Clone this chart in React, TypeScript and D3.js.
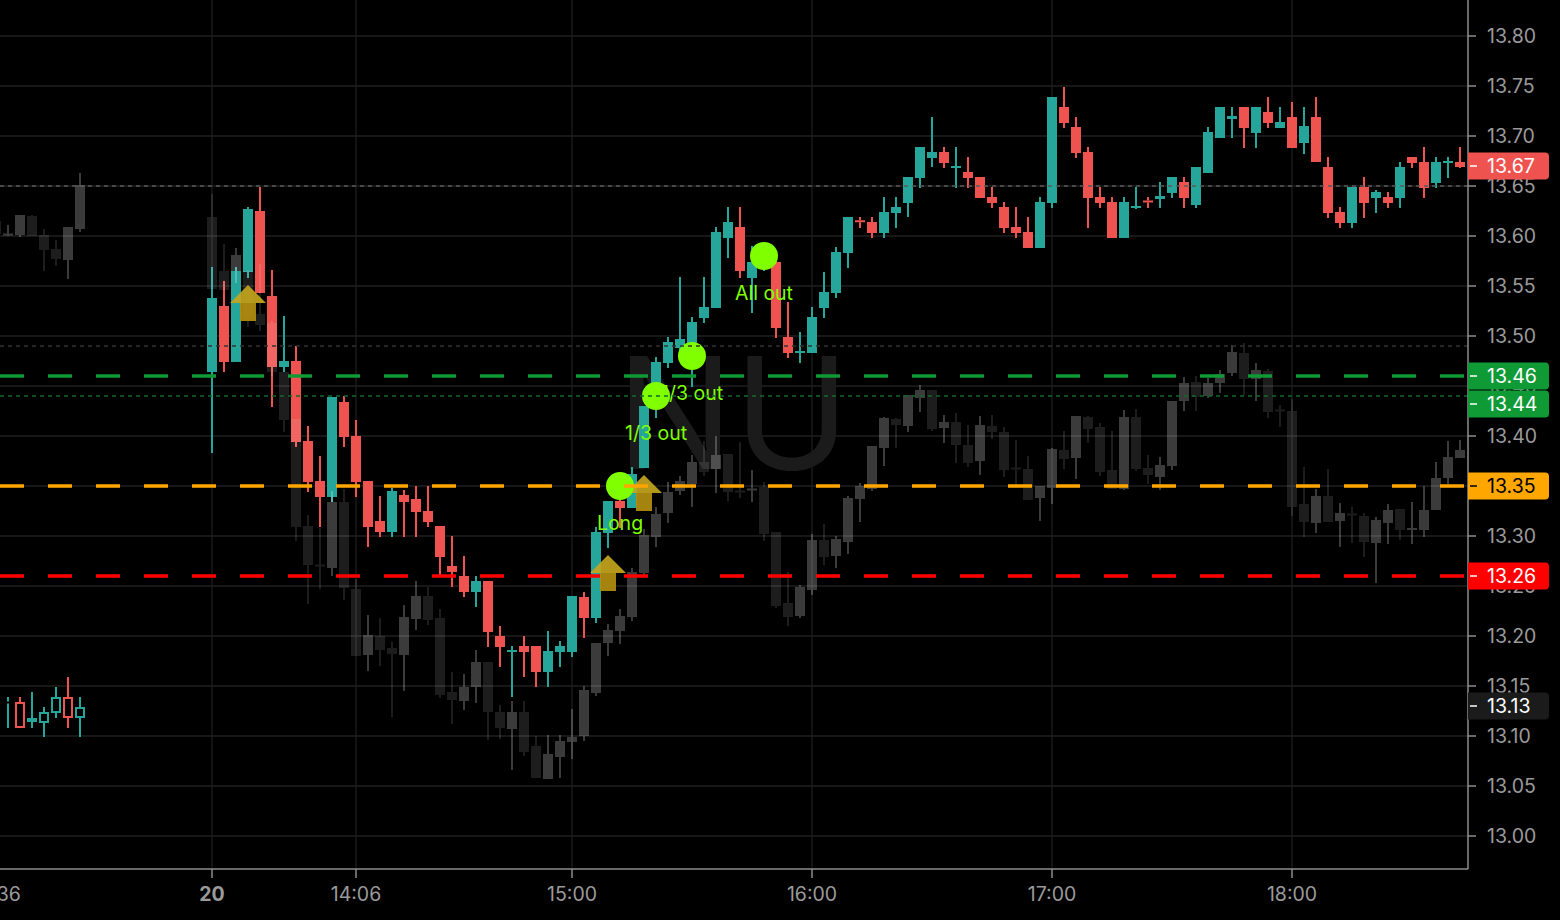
import { useEffect } from 'react'
import * as d3 from 'd3'

// [open, high, low, close]
type Bar = [number, number, number, number]

const W = 1560
const H = 920
const PLOT_RIGHT = 1468
const PLOT_BOTTOM = 869

// previous session (extended hours, drawn hollow), bar index -1..6
const prevStart = -1
const prevMain: Bar[] = [
  [13.132, 13.135, 13.13, 13.134],
  [13.133, 13.139, 13.108, 13.134],
  [13.134, 13.139, 13.108, 13.108],
  [13.114, 13.144, 13.108, 13.118],
  [13.113, 13.129, 13.099, 13.124],
  [13.123, 13.149, 13.118, 13.139],
  [13.139, 13.159, 13.108, 13.118],
  [13.118, 13.139, 13.099, 13.129],
]
const prevCompare: Bar[] = [
  [13.615, 13.62, 13.6, 13.602],
  [13.601, 13.611, 13.6, 13.602],
  [13.601, 13.621, 13.599, 13.621],
  [13.62, 13.621, 13.6, 13.6],
  [13.601, 13.607, 13.565, 13.586],
  [13.587, 13.596, 13.57, 13.577],
  [13.576, 13.609, 13.557, 13.609],
  [13.607, 13.663, 13.604, 13.651],
]

// session of the 20th, 3 minute bars, index 17..121
const sessionStart = 17
const sessionMain: Bar[] = [
  [13.464, 13.569, 13.383, 13.538], [13.53, 13.555, 13.464, 13.474], [13.474, 13.569, 13.474, 13.565],
  [13.564, 13.629, 13.558, 13.627], [13.625, 13.649, 13.543, 13.543], [13.54, 13.566, 13.429, 13.469],
  [13.469, 13.52, 13.464, 13.475], [13.475, 13.49, 13.389, 13.394], [13.395, 13.41, 13.344, 13.354],
  [13.355, 13.38, 13.309, 13.339], [13.339, 13.439, 13.334, 13.439], [13.434, 13.44, 13.389, 13.399],
  [13.4, 13.416, 13.339, 13.354], [13.355, 13.355, 13.289, 13.309], [13.315, 13.34, 13.299, 13.304],
  [13.304, 13.348, 13.299, 13.345], [13.341, 13.346, 13.299, 13.334], [13.337, 13.35, 13.299, 13.324],
  [13.325, 13.35, 13.309, 13.314], [13.31, 13.31, 13.26, 13.279], [13.27, 13.3, 13.249, 13.264],
  [13.26, 13.28, 13.239, 13.244], [13.244, 13.26, 13.229, 13.255], [13.255, 13.255, 13.189, 13.204],
  [13.2, 13.21, 13.169, 13.189], [13.184, 13.19, 13.139, 13.186], [13.19, 13.2, 13.159, 13.184],
  [13.19, 13.19, 13.149, 13.164], [13.164, 13.205, 13.149, 13.185], [13.184, 13.195, 13.169, 13.19],
  [13.184, 13.24, 13.179, 13.24], [13.239, 13.244, 13.198, 13.218], [13.218, 13.309, 13.213, 13.304],
  [13.303, 13.335, 13.288, 13.335], [13.335, 13.34, 13.308, 13.328], [13.328, 13.369, 13.328, 13.362],
  [13.368, 13.43, 13.368, 13.43], [13.429, 13.479, 13.418, 13.474], [13.473, 13.499, 13.468, 13.494],
  [13.488, 13.559, 13.48, 13.497], [13.492, 13.519, 13.449, 13.514], [13.518, 13.559, 13.513, 13.529],
  [13.528, 13.609, 13.528, 13.604], [13.598, 13.629, 13.578, 13.614], [13.609, 13.629, 13.558, 13.565],
  [13.558, 13.59, 13.523, 13.574], [13.572, 13.594, 13.565, 13.58], [13.574, 13.58, 13.498, 13.508],
  [13.499, 13.534, 13.478, 13.483], [13.483, 13.504, 13.473, 13.485], [13.483, 13.529, 13.483, 13.519],
  [13.528, 13.564, 13.518, 13.544], [13.543, 13.589, 13.538, 13.584], [13.583, 13.619, 13.568, 13.619],
  [13.6155, 13.619, 13.608, 13.614], [13.614, 13.619, 13.598, 13.603], [13.603, 13.639, 13.598, 13.624],
  [13.623, 13.639, 13.608, 13.629], [13.633, 13.659, 13.619, 13.659], [13.658, 13.689, 13.648, 13.689],
  [13.678, 13.719, 13.669, 13.684], [13.684, 13.689, 13.668, 13.673], [13.668, 13.689, 13.648, 13.67],
  [13.664, 13.679, 13.648, 13.658], [13.659, 13.659, 13.638, 13.638], [13.639, 13.649, 13.628, 13.633],
  [13.629, 13.634, 13.603, 13.608], [13.609, 13.629, 13.598, 13.603], [13.604, 13.619, 13.588, 13.588],
  [13.588, 13.639, 13.588, 13.634], [13.633, 13.739, 13.628, 13.739], [13.729, 13.749, 13.708, 13.713],
  [13.709, 13.719, 13.678, 13.683], [13.684, 13.689, 13.608, 13.638], [13.639, 13.649, 13.628, 13.633],
  [13.634, 13.639, 13.598, 13.598], [13.598, 13.639, 13.598, 13.634], [13.628, 13.649, 13.627, 13.63],
  [13.635, 13.639, 13.628, 13.634], [13.637, 13.654, 13.628, 13.64], [13.643, 13.659, 13.638, 13.659],
  [13.654, 13.659, 13.628, 13.638], [13.631, 13.669, 13.628, 13.669], [13.663, 13.709, 13.663, 13.704],
  [13.698, 13.729, 13.698, 13.729], [13.717, 13.729, 13.698, 13.72], [13.729, 13.729, 13.688, 13.708],
  [13.703, 13.729, 13.688, 13.729], [13.724, 13.739, 13.708, 13.713], [13.708, 13.729, 13.708, 13.714],
  [13.719, 13.734, 13.688, 13.688], [13.693, 13.729, 13.682, 13.71], [13.719, 13.739, 13.674, 13.674],
  [13.669, 13.679, 13.618, 13.623], [13.624, 13.629, 13.608, 13.613], [13.613, 13.649, 13.608, 13.649],
  [13.649, 13.659, 13.618, 13.633], [13.638, 13.646, 13.623, 13.644], [13.639, 13.644, 13.628, 13.633],
  [13.638, 13.674, 13.628, 13.669], [13.679, 13.679, 13.668, 13.673], [13.674, 13.689, 13.638, 13.648],
  [13.653, 13.679, 13.648, 13.674], [13.673, 13.679, 13.658, 13.675], [13.674, 13.689, 13.668, 13.669],
]
const sessionCompare: Bar[] = [
  [13.619, 13.642, 13.547, 13.547], [13.565, 13.592, 13.546, 13.546], [13.565, 13.588, 13.553, 13.581],
  [13.565, 13.566, 13.509, 13.52], [13.522, 13.572, 13.505, 13.511], [13.513, 13.515, 13.46, 13.464],
  [13.464, 13.464, 13.404, 13.416], [13.417, 13.417, 13.295, 13.309], [13.31, 13.321, 13.232, 13.271],
  [13.271, 13.308, 13.247, 13.27], [13.268, 13.345, 13.26, 13.334], [13.334, 13.347, 13.236, 13.248],
  [13.247, 13.257, 13.18, 13.18], [13.181, 13.221, 13.165, 13.201], [13.2, 13.218, 13.17, 13.186],
  [13.188, 13.194, 13.119, 13.182], [13.181, 13.231, 13.145, 13.219], [13.217, 13.255, 13.206, 13.24],
  [13.24, 13.249, 13.211, 13.216], [13.218, 13.227, 13.138, 13.141], [13.144, 13.164, 13.112, 13.136],
  [13.135, 13.162, 13.126, 13.149], [13.149, 13.186, 13.133, 13.174], [13.174, 13.174, 13.096, 13.124],
  [13.124, 13.131, 13.097, 13.108], [13.107, 13.135, 13.066, 13.124], [13.124, 13.135, 13.08, 13.084],
  [13.09, 13.1, 13.058, 13.058], [13.057, 13.101, 13.057, 13.082], [13.079, 13.101, 13.058, 13.095],
  [13.094, 13.127, 13.077, 13.099], [13.1, 13.15, 13.095, 13.146], [13.143, 13.193, 13.14, 13.193],
  [13.193, 13.212, 13.18, 13.206], [13.205, 13.227, 13.192, 13.22], [13.219, 13.268, 13.215, 13.264],
  [13.263, 13.307, 13.26, 13.301], [13.299, 13.329, 13.289, 13.322], [13.323, 13.354, 13.313, 13.344],
  [13.345, 13.36, 13.341, 13.355], [13.352, 13.381, 13.329, 13.374], [13.374, 13.395, 13.36, 13.364],
  [13.367, 13.4, 13.343, 13.381], [13.382, 13.382, 13.335, 13.344], [13.345, 13.394, 13.338, 13.344],
  [13.346, 13.366, 13.334, 13.347], [13.349, 13.354, 13.295, 13.302], [13.304, 13.304, 13.228, 13.23],
  [13.233, 13.264, 13.21, 13.219], [13.22, 13.251, 13.218, 13.249], [13.246, 13.302, 13.241, 13.296],
  [13.296, 13.312, 13.271, 13.279], [13.28, 13.3, 13.268, 13.297], [13.294, 13.34, 13.282, 13.338],
  [13.337, 13.353, 13.314, 13.35], [13.347, 13.39, 13.345, 13.39], [13.388, 13.419, 13.37, 13.418],
  [13.417, 13.418, 13.388, 13.411], [13.41, 13.441, 13.404, 13.441], [13.438, 13.451, 13.424, 13.446],
  [13.446, 13.446, 13.405, 13.407], [13.408, 13.421, 13.393, 13.414], [13.414, 13.423, 13.373, 13.391],
  [13.391, 13.411, 13.369, 13.373], [13.375, 13.42, 13.361, 13.411], [13.41, 13.421, 13.397, 13.404],
  [13.404, 13.409, 13.359, 13.366], [13.368, 13.396, 13.349, 13.367], [13.367, 13.38, 13.336, 13.336],
  [13.338, 13.35, 13.315, 13.35], [13.348, 13.388, 13.332, 13.387], [13.386, 13.405, 13.367, 13.377],
  [13.378, 13.42, 13.357, 13.42], [13.419, 13.42, 13.393, 13.407], [13.409, 13.413, 13.36, 13.364],
  [13.366, 13.405, 13.347, 13.347], [13.347, 13.426, 13.346, 13.419], [13.419, 13.427, 13.365, 13.367],
  [13.368, 13.381, 13.352, 13.361], [13.359, 13.379, 13.346, 13.371], [13.37, 13.435, 13.366, 13.435],
  [13.435, 13.459, 13.425, 13.453], [13.454, 13.46, 13.425, 13.439], [13.44, 13.458, 13.438, 13.453],
  [13.453, 13.466, 13.443, 13.462], [13.463, 13.491, 13.46, 13.484], [13.483, 13.493, 13.441, 13.457],
  [13.457, 13.473, 13.435, 13.466], [13.465, 13.467, 13.418, 13.424], [13.426, 13.431, 13.409, 13.425],
  [13.425, 13.437, 13.32, 13.329], [13.332, 13.369, 13.299, 13.314], [13.313, 13.347, 13.303, 13.34],
  [13.34, 13.367, 13.314, 13.314], [13.315, 13.333, 13.289, 13.323], [13.322, 13.329, 13.293, 13.321],
  [13.32, 13.323, 13.279, 13.294], [13.293, 13.319, 13.253, 13.316], [13.313, 13.332, 13.292, 13.326],
  [13.327, 13.327, 13.296, 13.306], [13.307, 13.334, 13.292, 13.307], [13.306, 13.35, 13.299, 13.326],
  [13.326, 13.374, 13.326, 13.358], [13.358, 13.395, 13.352, 13.379], [13.378, 13.396, 13.378, 13.386],
]

const priceTicks = [13.0, 13.05, 13.1, 13.15, 13.2, 13.25, 13.3, 13.35, 13.4, 13.45, 13.5, 13.55, 13.6, 13.65, 13.7, 13.75, 13.8]
const timeLabels = [
  { i: -1, text: '19:36', bold: false },
  { i: 17, text: '20', bold: true },
  { i: 29, text: '14:06', bold: false },
  { i: 47, text: '15:00', bold: false },
  { i: 67, text: '16:00', bold: false },
  { i: 87, text: '17:00', bold: false },
  { i: 107, text: '18:00', bold: false },
]

// order levels
const dashedLevels = [
  { price: 13.46, color: '#0f9a36' },
  { price: 13.35, color: '#ffa600' },
  { price: 13.26, color: '#ff0000' },
]
const dottedLevel = { price: 13.44, color: '#11692b' }
const refLines = [
  { price: 13.65, color: '#5a5a5a' },
  { price: 13.49, color: '#333333' },
]

// entry arrows (bar index) and exit / fill markers
const entryArrows = [20, 50, 53]
const fills = [
  { i: 51, price: 13.35, label: 'Long' },
  { i: 54, price: 13.44, label: '1/3 out' },
  { i: 57, price: 13.48, label: '1/3 out' },
  { i: 63, price: 13.58, label: 'All out' },
]

const badges = [
  { price: 13.67, bg: '#ef5350', fg: '#ffffff', shift: 0 },
  { price: 13.46, bg: '#0f9a36', fg: '#ffffff', shift: 0 },
  { price: 13.44, bg: '#0f9a36', fg: '#ffffff', shift: 8 },
  { price: 13.35, bg: '#ffa600', fg: '#000000', shift: 0 },
  { price: 13.26, bg: '#ff0000', fg: '#ffffff', shift: 0 },
  { price: 13.13, bg: '#1b1b1b', fg: '#ffffff', shift: 0 },
]

const UP = '#26a69a'
const DOWN = '#ef5350'
const FONT = 'Inter, "Liberation Sans", Arial, sans-serif'
const FS = 19.5

const x = d3.scaleLinear().domain([0, 121]).range([8, 1460])
const y = d3.scaleLinear().domain([13.0, 13.8]).range([836, 36])

function candleMarks(bars: Bar[], start: number, mode: 'solid' | 'hollow' | 'ghost', key: string) {
  return bars.map((b, k) => {
    const [o, h, l, c] = b
    const cx = Math.round(x(start + k))
    const up = c >= o
    let top = y(Math.max(o, c))
    let bot = y(Math.min(o, c))
    if (bot - top < 2) {
      const m = (top + bot) / 2
      top = m - 1
      bot = m + 1
    }
    const yh = y(h)
    const yl = y(l)
    let fill = up ? UP : DOWN
    let op = 1
    if (mode === 'ghost') {
      fill = '#ffffff'
      op = up ? 0.23 : 0.115
    }
    const wick = (
      <g fill={fill} fillOpacity={op}>
        {top - yh > 0.5 && <rect x={cx - 1} y={yh} width={2} height={top - yh} />}
        {yl - bot > 0.5 && <rect x={cx - 1} y={bot} width={2} height={yl - bot} />}
      </g>
    )
    if (mode === 'hollow') {
      return (
        <g key={key + k}>
          {wick}
          <rect x={cx - 4} y={top + 1} width={8} height={Math.max(0, bot - top - 2)}
            fill="#000" stroke={fill} strokeWidth={2} />
        </g>
      )
    }
    return (
      <g key={key + k}>
        {wick}
        <rect x={cx - 5} y={top} width={10} height={bot - top} fill={fill} fillOpacity={op} />
      </g>
    )
  })
}

function badgePath(cy: number, h: number) {
  const t = cy - h / 2
  const b = cy + h / 2
  const l = PLOT_RIGHT
  const r = 1549
  return `M${l},${t}H${r - 4}A4,4 0 0 1 ${r},${t + 4}V${b - 4}A4,4 0 0 1 ${r - 4},${b}H${l}Z`
}

export default function App() {
  useEffect(() => {
    document.body.style.margin = '0'
    document.body.style.background = '#000'
  }, [])

  return (
    <svg width={W} height={H} viewBox={`0 0 ${W} ${H}`} style={{ display: 'block', background: '#000' }}
      fontFamily={FONT}>
      <rect x={0} y={0} width={W} height={H} fill="#000" />

      {/* grid */}
      <g stroke="#1f1f1f" strokeWidth={1.5}>
        {priceTicks.map((p) => (
          <line key={'hg' + p} x1={0} x2={PLOT_RIGHT} y1={Math.round(y(p))} y2={Math.round(y(p))} />
        ))}
        {timeLabels.filter((t) => t.i > 0).map((t) => (
          <line key={'vg' + t.i} x1={x(t.i)} x2={x(t.i)} y1={0} y2={PLOT_BOTTOM} stroke="#262626" strokeWidth={1} />
        ))}
      </g>

      {/* watermark */}
      <text x={733} y={469} textAnchor="middle" fontSize={156} fill="#1b1b1b" fontFamily={FONT}>NU</text>

      {/* main symbol */}
      {candleMarks(prevMain, prevStart, 'hollow', 'pm')}
      {candleMarks(sessionMain, sessionStart, 'solid', 'sm')}

      {/* comparison symbol, translucent */}
      {candleMarks(prevCompare, prevStart, 'ghost', 'pc')}
      {candleMarks(sessionCompare, sessionStart, 'ghost', 'sc')}

      {/* entry arrows */}
      {entryArrows.map((i) => {
        const cx = x(i)
        const ay = Math.round(y(sessionMain[i - sessionStart][2])) + 7
        return (
          <g key={'ar' + i} opacity={0.92}>
            <path d={`M${cx},${ay}L${cx + 18},${ay + 18}L${cx - 18},${ay + 18}Z`} fill="#c3a51f" />
            <rect x={cx - 8} y={ay + 18} width={16} height={18} fill="#b28f10" />
          </g>
        )
      })}

      {/* fill labels and markers */}
      {fills.map((f) => (
        <text key={'fl' + f.i} x={x(f.i)} y={y(f.price) + 37} textAnchor="middle" dominantBaseline="central"
          fontSize={FS} fill="#7fff00">{f.label}</text>
      ))}
      {fills.map((f) => (
        <circle key={'fc' + f.i} cx={x(f.i)} cy={y(f.price)} r={14} fill="#7fff00" />
      ))}

      {/* reference / order lines */}
      {refLines.map((l) => (
        <line key={'rl' + l.price} x1={0} x2={PLOT_RIGHT} y1={Math.round(y(l.price))} y2={Math.round(y(l.price))}
          stroke={l.color} strokeWidth={1.5} strokeDasharray="4 4" />
      ))}
      <line x1={0} x2={PLOT_RIGHT} y1={y(dottedLevel.price)} y2={y(dottedLevel.price)}
        stroke={dottedLevel.color} strokeWidth={1.5} strokeDasharray="4 4" />
      {dashedLevels.map((l) => (
        <line key={'dl' + l.price} x1={0} x2={PLOT_RIGHT} y1={y(l.price)} y2={y(l.price)}
          stroke={l.color} strokeWidth={3.5} strokeDasharray="24 24" />
      ))}

      {/* axes */}
      <rect x={PLOT_RIGHT} y={0} width={W - PLOT_RIGHT} height={H} fill="#000" />
      <rect x={0} y={PLOT_BOTTOM} width={PLOT_RIGHT} height={H - PLOT_BOTTOM} fill="#000" />
      <line x1={PLOT_RIGHT} x2={PLOT_RIGHT} y1={0} y2={PLOT_BOTTOM} stroke="#8c8c8c" strokeWidth={1.5} />
      <line x1={0} x2={PLOT_RIGHT} y1={PLOT_BOTTOM} y2={PLOT_BOTTOM} stroke="#8c8c8c" strokeWidth={1.5} />

      {priceTicks.map((p) => (
        <g key={'yt' + p}>
          <line x1={PLOT_RIGHT} x2={PLOT_RIGHT + 8} y1={y(p)} y2={y(p)} stroke="#8c8c8c" strokeWidth={1.5} />
          <text x={1487} y={y(p)} dominantBaseline="central" fontSize={FS} fill="#9a9a9a">{p.toFixed(2)}</text>
        </g>
      ))}

      {timeLabels.map((t) => (
        <g key={'xt' + t.i}>
          <line x1={x(t.i)} x2={x(t.i)} y1={PLOT_BOTTOM} y2={PLOT_BOTTOM + 9} stroke="#8c8c8c" strokeWidth={1.5} />
          <text x={x(t.i)} y={894} textAnchor="middle" dominantBaseline="central" fontSize={FS}
            fontWeight={t.bold ? 700 : 400} fill="#9a9a9a">{t.text}</text>
        </g>
      ))}

      {badges.map((b) => {
        const cy = y(b.price) + b.shift
        return (
          <g key={'bd' + b.price}>
            <path d={badgePath(cy, 27)} fill={b.bg} />
            <line x1={PLOT_RIGHT + 2} x2={PLOT_RIGHT + 9} y1={cy} y2={cy} stroke={b.fg} strokeWidth={1.5} />
            <text x={1487} y={cy} dominantBaseline="central" fontSize={FS} fill={b.fg}>{b.price.toFixed(2)}</text>
          </g>
        )
      })}
    </svg>
  )
}
